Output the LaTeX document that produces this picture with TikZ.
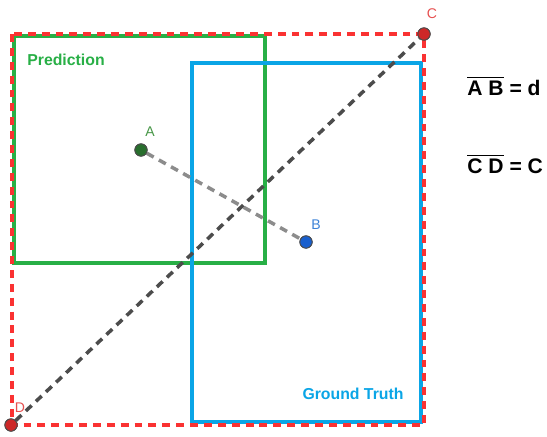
\documentclass[tikz,border=0pt]{standalone}
\usepackage{amsmath}
\usepackage{fontspec}
\setmainfont{Liberation Sans}
\usepackage{xcolor}
\definecolor{boxred}{RGB}{250,50,50}
\definecolor{predgreen}{RGB}{40,175,70}
\definecolor{truthblue}{RGB}{10,165,230}
\definecolor{dotgreen}{RGB}{40,110,45}
\definecolor{dotblue}{RGB}{25,95,205}
\definecolor{dotred}{RGB}{205,40,40}
\definecolor{lblgreen}{RGB}{70,150,70}
\definecolor{lblblue}{RGB}{60,130,215}
\definecolor{lblred}{RGB}{230,80,80}

\tikzset{
  pt/.style={circle, draw=black!70, line width=0.5pt, minimum size=7pt, inner sep=0pt},
  ptlabel/.style={font=\footnotesize, inner sep=0pt},
  dashline/.style={dash pattern=on 4.5pt off 3.4pt}
}

\begin{document}
\begin{tikzpicture}[x=0.02cm, y=-0.02cm]
  \useasboundingbox (0,0) rectangle (547,436);
  \draw[predgreen, line width=2.2pt] (14,36) rectangle (265,263);
  \draw[truthblue, line width=2.2pt] (192,63) rectangle (421,422);
  \draw[boxred, dashline, line width=1.8pt] (12,34) rectangle (424,425);
  \node[predgreen, font=\fontsize{9}{11}\selectfont\bfseries] (pred) at (66,60) {Prediction};
  \node[truthblue, font=\fontsize{9}{11}\selectfont\bfseries] (truth) at (353,394) {Ground Truth};

  \node[pt, fill=dotgreen] (A) at (141,150) {};
  \node[pt, fill=dotblue] (B) at (306,242) {};
  \node[pt, fill=dotred] (C) at (424,34) {};
  \node[pt, fill=dotred] (D) at (11,425) {};
  \draw[black!45, dashline, line width=2pt] (A) -- (B);
  \draw[black!70, dashline, line width=2pt] (D) -- (C);
  \node[pt, fill=dotgreen] at (A) {};
  \node[pt, fill=dotblue] at (B) {};
  \node[pt, fill=dotred] at (C) {};
  \node[pt, fill=dotred] at (D) {};

  \node[ptlabel, lblgreen] (Alab) at (150,132) {A};
  \node[ptlabel, lblblue] (Blab) at (316,225) {B};
  \node[ptlabel, lblred] (Clab) at (432,14) {C};
  \node[ptlabel, lblred] (Dlab) at (20,408) {D};

  \node[anchor=base west, inner sep=0pt, font=\fontsize{12}{14}\selectfont\bfseries] (ab) at (467,95)
    {$\overline{\text{\bfseries A B}}$ = d};
  \node[anchor=base west, inner sep=0pt, font=\fontsize{12}{14}\selectfont\bfseries] (cd) at (467,173)
    {$\overline{\text{\bfseries C D}}$ = C};
\end{tikzpicture}
\end{document}
